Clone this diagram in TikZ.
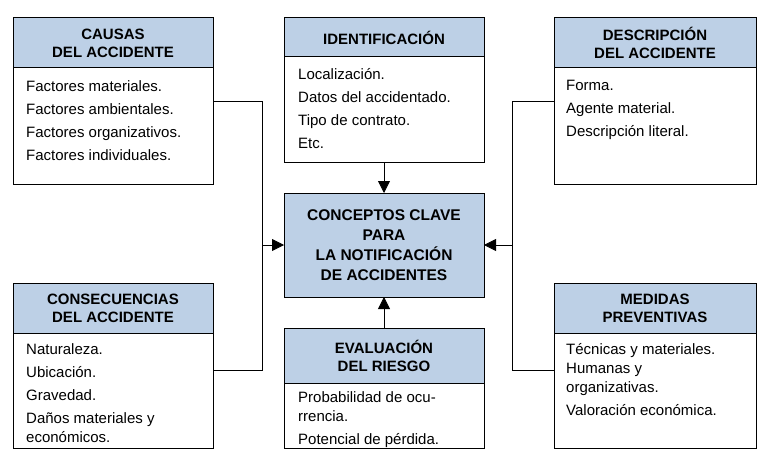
\documentclass[tikz,border=0pt]{standalone}
\usepackage{fontspec}
\setmainfont{Liberation Sans}
\usetikzlibrary{arrows.meta}
\definecolor{hdr}{HTML}{BDD0E6}
\tikzset{
 hbox/.style={draw=black,line width=1pt,fill=hdr},
 bbox/.style={draw=black,line width=1pt,fill=white},
 htxt/.style={font=\fontsize{15}{18}\selectfont\bfseries,align=center},
 btxt/.style={font=\fontsize{15}{23}\selectfont,align=left,anchor=north west,inner sep=0pt},
 conn/.style={line width=0.8pt},
 arr/.style={line width=0.8pt,-{Triangle[length=12pt,width=12pt]}}
}
\begin{document}
\begin{tikzpicture}[x=1pt,y=-1pt]
\useasboundingbox (0,0) rectangle (768,476);
% Causas
\draw[bbox] (13,18) rectangle (213,184);
\draw[hbox] (13,18) rectangle (213,68);
\node[htxt] at (113,43) {CAUSAS\\DEL ACCIDENTE};
\node[btxt] at (26,80) {Factores materiales.\\Factores ambientales.\\Factores organizativos.\\Factores individuales.};
% Consecuencias
\draw[bbox] (13,283) rectangle (213,448);
\draw[hbox] (13,283) rectangle (213,333);
\node[htxt] at (113,308) {CONSECUENCIAS\\DEL ACCIDENTE};
\node[btxt] at (26,343) {Naturaleza.\\Ubicación.\\Gravedad.\\Daños materiales y\\[-4pt]económicos.};
% Identificacion
\draw[bbox] (284,18) rectangle (484,162);
\draw[hbox] (284,18) rectangle (484,57);
\node[htxt] at (384,37.5) {IDENTIFICACIÓN};
\node[btxt] at (298,68) {Localización.\\Datos del accidentado.\\Tipo de contrato.\\Etc.};
% Center
\draw[hbox] (284,193) rectangle (484,297);
\node[htxt,font=\fontsize{15.5}{20}\selectfont\bfseries] (center) at (384,245) {CONCEPTOS CLAVE\\PARA\\LA NOTIFICACIÓN\\DE ACCIDENTES};
% Evaluacion
\draw[bbox] (284,328) rectangle (484,448);
\draw[hbox] (284,328) rectangle (484,383);
\node[htxt] at (384,355.5) {EVALUACIÓN\\DEL RIESGO};
\node[btxt] at (298,391) {Probabilidad de ocu-\\[-4pt]rrencia.\\Potencial de pérdida.};
% Descripcion
\draw[bbox] (554,18) rectangle (756,184);
\draw[hbox] (554,18) rectangle (756,68);
\node[htxt] at (655,43) {DESCRIPCIÓN\\DEL ACCIDENTE};
\node[btxt] at (566,80) {Forma.\\Agente material.\\Descripción literal.};
% Medidas
\draw[bbox] (554,283) rectangle (756,448);
\draw[hbox] (554,283) rectangle (756,333);
\node[htxt] at (655,308) {MEDIDAS\\PREVENTIVAS};
\node[btxt] at (566,343) {Técnicas y materiales.\\[-4pt]Humanas y\\[-4pt]organizativas.\\Valoración económica.};
% connectors
\coordinate (l1) at (213,101); \coordinate (l2) at (213,370);
\coordinate (lm) at (262,245);
\draw[conn] (l1) -- (262,101) -- (262,370) -- (l2);
\draw[arr] (lm) -- (284,245);
\coordinate (r1) at (554,101); \coordinate (r2) at (554,370);
\coordinate (rm) at (512,245);
\draw[conn] (r1) -- (512,101) -- (512,370) -- (r2);
\draw[arr] (rm) -- (484,245);
\draw[arr] (384,162) -- (384,193);
\draw[arr] (384,328) -- (384,297);
\end{tikzpicture}
\end{document}
